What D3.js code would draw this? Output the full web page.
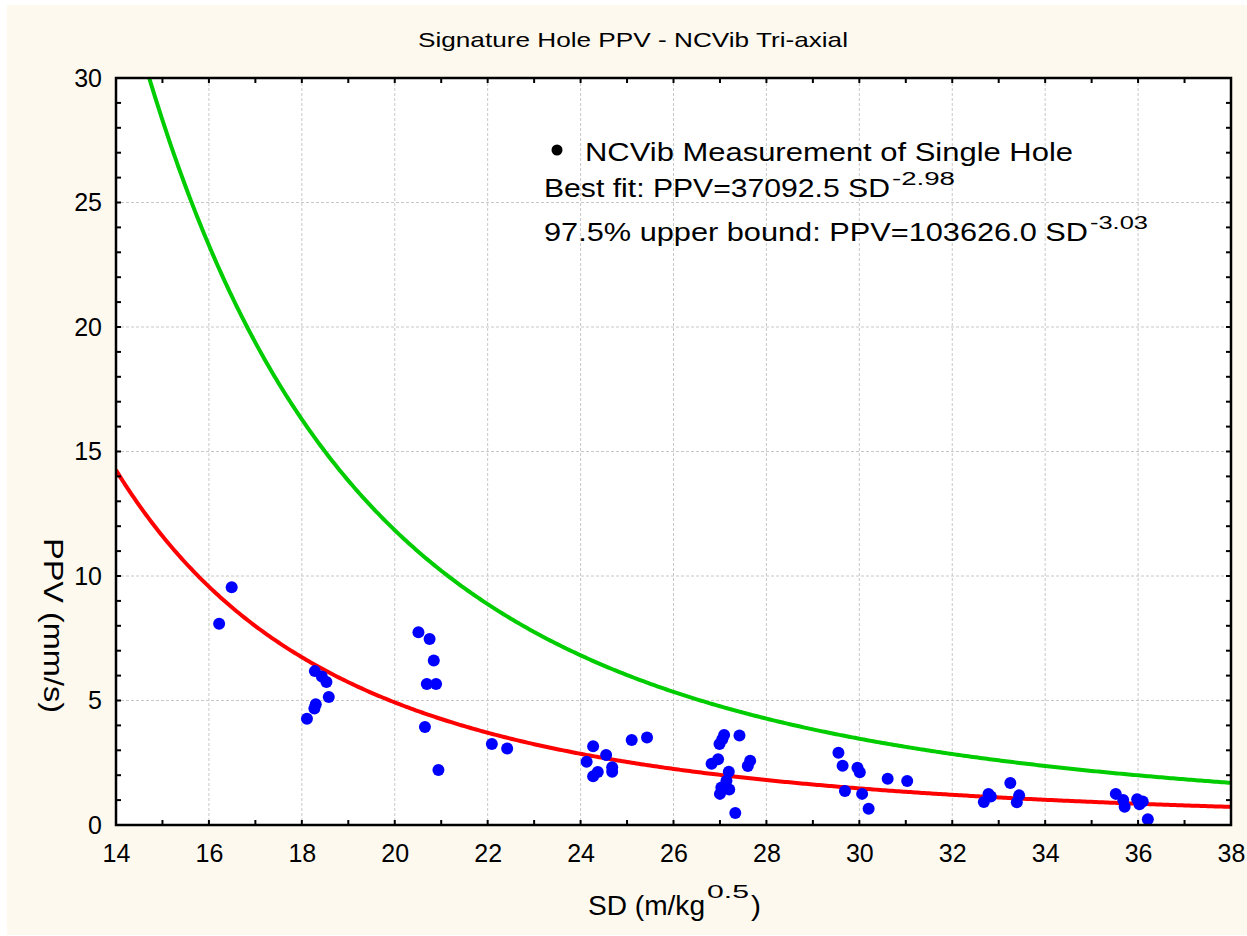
<!DOCTYPE html>
<html>
<head>
<meta charset="utf-8">
<script src="https://cdn.jsdelivr.net/npm/d3@7"></script>
<style>
  html, body { margin: 0; padding: 0; background: #ffffff; }
  svg { display: block; }
  text { font-family: "Liberation Sans", Arial, sans-serif; fill: #000; }
</style>
</head>
<body>
<svg id="chart" width="1247" height="936"></svg>
<script>
// ---- data ----
const title = "Signature Hole PPV - NCVib Tri-axial";
const xTicks = [14, 16, 18, 20, 22, 24, 26, 28, 30, 32, 34, 36, 38];
const yTicks = [0, 5, 10, 15, 20, 25, 30];
const sdValues = [
  16.49, 16.22,
  18.28, 18.43, 18.53, 18.58, 18.30, 18.27, 18.11,
  20.51, 20.75, 20.84, 20.69, 20.89, 20.65, 20.94,
  22.09, 22.42,
  24.27, 24.55, 24.13, 24.37, 24.27, 24.68, 24.68,
  25.10, 25.43,
  27.09, 27.05, 26.99, 27.42, 26.96, 26.82, 27.65, 27.60, 27.19, 27.14, 27.03, 27.20, 27.00, 27.33,
  29.55, 29.64, 29.96, 30.01, 29.69, 30.06, 30.20, 30.61, 31.03,
  32.78, 32.83, 32.68, 33.25, 33.44, 33.39,
  35.52, 35.68, 35.71, 35.98, 36.10, 36.03, 36.21
];
const ppvValues = [
  9.55, 8.08,
  6.18, 5.96, 5.74, 5.14, 4.85, 4.68, 4.27,
  7.74, 7.47, 6.61, 5.66, 5.66, 3.94, 2.21,
  3.25, 3.07,
  3.16, 2.81, 2.54, 2.13, 1.96, 2.32, 2.14,
  3.41, 3.51,
  3.61, 3.44, 3.25, 3.59, 2.64, 2.46, 2.58, 2.37, 2.14, 1.78, 1.51, 1.43, 1.25, 0.48,
  2.90, 2.38, 2.30, 2.12, 1.37, 1.25, 0.65, 1.86, 1.77,
  1.25, 1.14, 0.92, 1.69, 1.19, 0.91,
  1.25, 1.00, 0.73, 1.03, 0.94, 0.83, 0.23
];
// fitted power laws PPV = K * SD^b (as printed in the legend)
const fitNames = ["best", "upper"];
const fitK = [37092.5, 103626.0];
const fitB = [-2.98, -3.03];
const fitColors = ["#ff0000", "#00cc00"];
const legendMain = ["Best fit: PPV=37092.5 SD", "97.5% upper bound: PPV=103626.0 SD"];
const legendSup = ["-2.98", "-3.03"];
const pointLabel = "NCVib Measurement of Single Hole";

// ---- layout ----
const svg = d3.select("#chart");
const W = 1247, H = 936;
const m = {left: 116, right: 1231, top: 78, bottom: 825};

svg.append("rect").attr("x", 7).attr("y", 5).attr("width", W - 7).attr("height", H - 6)
  .attr("fill", "#fdf9ef");

const x = d3.scaleLinear().domain([14, 38]).range([m.left, m.right]);
const y = d3.scaleLinear().domain([0, 30]).range([m.bottom, m.top]);

svg.append("rect").attr("x", m.left).attr("y", m.top)
  .attr("width", m.right - m.left).attr("height", m.bottom - m.top).attr("fill", "#ffffff");

// grid
const grid = svg.append("g");
grid.selectAll("line.gx").data(xTicks.slice(1, -1)).join("line")
  .attr("x1", d => x(d)).attr("x2", d => x(d)).attr("y1", m.top).attr("y2", m.bottom)
  .attr("stroke", "#c8c8c8").attr("stroke-width", 1).attr("stroke-dasharray", "3,2");
grid.selectAll("line.gy").data(yTicks.slice(1, -1)).join("line")
  .attr("y1", d => y(d)).attr("y2", d => y(d)).attr("x1", m.left).attr("x2", m.right)
  .attr("stroke", "#c8c8c8").attr("stroke-width", 1).attr("stroke-dasharray", "3,2");

// clip
svg.append("clipPath").attr("id", "clip").append("rect")
  .attr("x", m.left).attr("y", m.top).attr("width", m.right - m.left).attr("height", m.bottom - m.top);

// curves
const sdGrid = d3.range(14, 38.001, 0.05);
const line = d3.line().x(d => x(d[0])).y(d => y(d[1]));
fitNames.forEach((n, i) => {
  const pts = sdGrid.map(s => [s, fitK[i] * Math.pow(s, fitB[i])]);
  svg.append("path").attr("clip-path", "url(#clip)")
    .attr("d", line(pts)).attr("fill", "none")
    .attr("stroke", fitColors[i]).attr("stroke-width", 4);
});

// points
svg.append("g").selectAll("circle").data(sdValues.map((s, i) => [s, ppvValues[i]])).join("circle")
  .attr("cx", d => x(d[0])).attr("cy", d => y(d[1])).attr("r", 6).attr("fill", "#0000ff");

// axes
const fmt = d3.format("d");
const xMinor = d3.range(14, 38.001, 1);
const yMinor = d3.range(0, 30.001, 1);
const axB = svg.append("g").attr("transform", `translate(0,${m.bottom})`)
  .call(d3.axisBottom(x).tickValues(xTicks).tickSize(0).tickPadding(19).tickFormat(fmt));
const axL = svg.append("g").attr("transform", `translate(${m.left},0)`)
  .call(d3.axisLeft(y).tickValues(yTicks).tickSize(0).tickPadding(14).tickFormat(fmt));
[axB, axL].forEach(a => {
  a.select(".domain").remove();
  a.selectAll("text").attr("font-size", 25).attr("font-family", "Liberation Sans, Arial, sans-serif").attr("fill", "#000");
});

// inward ticks on all four sides
const ticks = svg.append("g").attr("stroke", "#000").attr("stroke-width", 2);
xMinor.forEach(v => {
  const L = 5;
  ticks.append("line").attr("x1", x(v)).attr("x2", x(v)).attr("y1", m.bottom).attr("y2", m.bottom - L);
  ticks.append("line").attr("x1", x(v)).attr("x2", x(v)).attr("y1", m.top).attr("y2", m.top + L);
});
yMinor.forEach(v => {
  const L = 5;
  ticks.append("line").attr("y1", y(v)).attr("y2", y(v)).attr("x1", m.left).attr("x2", m.left + L);
  ticks.append("line").attr("y1", y(v)).attr("y2", y(v)).attr("x1", m.right).attr("x2", m.right - L);
});

// frame
svg.append("rect").attr("x", m.left).attr("y", m.top)
  .attr("width", m.right - m.left).attr("height", m.bottom - m.top)
  .attr("fill", "none").attr("stroke", "#000").attr("stroke-width", 2.5);

// helper for stretched text
function stext(xp, yp, str, size, len) {
  return svg.append("text").attr("x", xp).attr("y", yp).attr("font-size", size)
    .attr("textLength", len).attr("lengthAdjust", "spacingAndGlyphs").text(str);
}

// title
stext(418, 47, title, 21, 430);

// x title
stext(588, 915, "SD (m/kg", 27, 117);
stext(707, 898, "0.5", 18, 42);
stext(751, 915, ")", 27, 10);

// y title (rotated clockwise)
svg.append("text").attr("transform", "translate(44,625.5) rotate(90)")
  .attr("text-anchor", "middle").attr("font-size", 28)
  .attr("textLength", 175).attr("lengthAdjust", "spacingAndGlyphs").text("PPV (mm/s)");

// legend
svg.append("circle").attr("cx", 557).attr("cy", 150).attr("r", 5.5).attr("fill", "#000");
stext(585, 161, pointLabel, 26, 488);
const mainEnds = [890, 1088];
const supW = [63, 58];
legendMain.forEach((t, i) => {
  const by = 197 + i * 44;
  stext(544, by, t, 26, mainEnds[i] - 544);
  stext(mainEnds[i] + 2, by - 12, legendSup[i], 18, supW[i]);
});
</script>
</body>
</html>
